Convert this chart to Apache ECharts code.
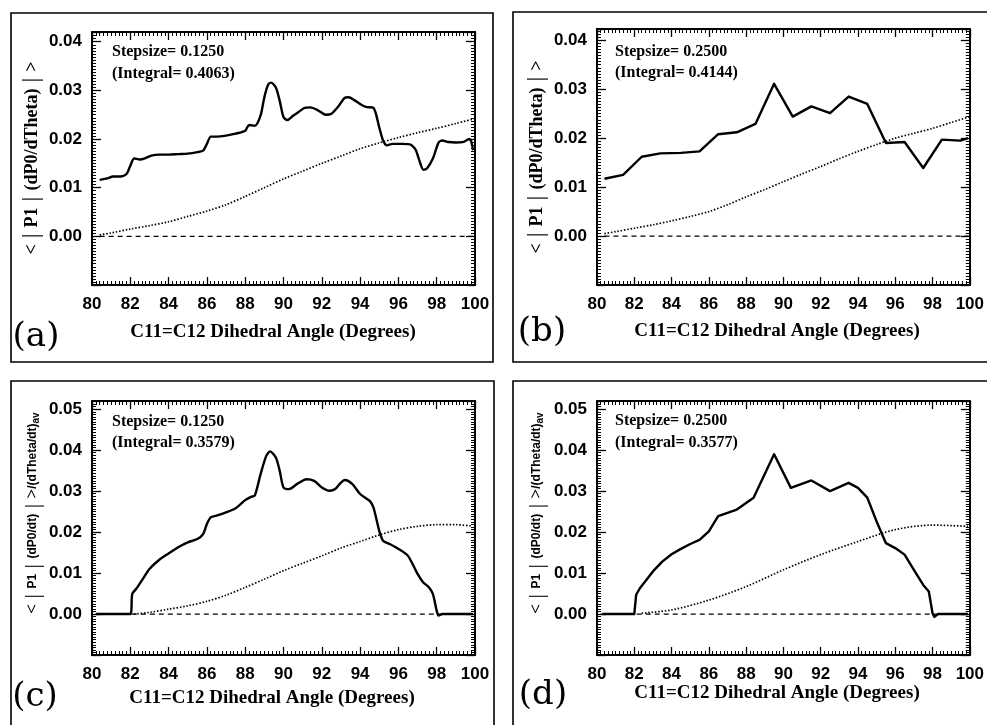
<!DOCTYPE html>
<html>
<head>
<meta charset="utf-8">
<script src="https://cdn.jsdelivr.net/npm/echarts@6/dist/echarts.min.js"></script>
<style>
html,body{margin:0;padding:0;background:#fff;}
#chart{width:987px;height:725px;}
</style>
</head>
<body>
<div id="chart"></div>
<script>
// ---------- Data ----------
const xTicks = [80, 82, 84, 86, 88, 90, 92, 94, 96, 98, 100];

// Panel (a): stepsize 0.125
const angleA = [80.4,80.8,81.1,81.5,81.8,82.0,82.2,82.5,82.8,83.1,83.5,84.0,84.5,85.0,85.5,85.8,86.0,86.2,86.5,87.0,87.5,88.0,88.2,88.5,88.8,89.0,89.2,89.35,89.6,89.8,90.0,90.2,90.5,90.8,91.1,91.4,91.8,92.2,92.5,92.9,93.2,93.4,93.7,94.0,94.3,94.7,95.0,95.2,95.4,95.7,96.2,96.6,96.9,97.1,97.3,97.5,97.8,98.1,98.3,98.6,99.0,99.4,99.7,99.8,99.9];
const solidA = [0.0116,0.0119,0.0123,0.0123,0.0128,0.0145,0.0160,0.0158,0.0161,0.0166,0.0168,0.0168,0.0169,0.0170,0.0173,0.0176,0.0190,0.0205,0.0205,0.0207,0.0211,0.0217,0.0229,0.0227,0.0248,0.0286,0.0312,0.0316,0.0306,0.0279,0.0245,0.0239,0.0248,0.0256,0.0264,0.0265,0.0259,0.0250,0.0252,0.0269,0.0285,0.0286,0.0280,0.0272,0.0266,0.0264,0.0224,0.0197,0.0187,0.0190,0.0190,0.0189,0.0178,0.0155,0.0137,0.0140,0.0160,0.0193,0.0197,0.0194,0.0193,0.0194,0.0200,0.0195,0.0177];
const dotAngleA = [80.4,81,82,83,84,85,86,87,88,89,90,91,92,93,94,95,96,97,98,99,100];
const dotA = [0.0003,0.0007,0.0015,0.0022,0.0030,0.0041,0.0052,0.0065,0.0082,0.0100,0.0118,0.0134,0.0150,0.0165,0.0180,0.0192,0.0203,0.0213,0.0222,0.0232,0.0242];

// Panel (b): stepsize 0.25
const angleB = [80.4,81.4,82.4,83.4,84.5,85.5,86.5,87.5,88.5,89.5,90.5,91.5,92.5,93.5,94.5,95.5,96.5,97.5,98.5,99.5,99.9];
const solidB = [0.0117,0.0125,0.0162,0.0169,0.0170,0.0173,0.0208,0.0212,0.0229,0.0311,0.0244,0.0265,0.0251,0.0285,0.0270,0.0190,0.0192,0.0139,0.0197,0.0195,0.0200];
const dotAngleB = [80.4,81,82,83,84,85,86,87,88,89,90,91,92,93,94,95,96,97,98,99,100];
const dotB = [0.0005,0.0009,0.0016,0.0023,0.0031,0.0040,0.0050,0.0064,0.0080,0.0095,0.0111,0.0127,0.0142,0.0158,0.0173,0.0187,0.0200,0.0210,0.0220,0.0232,0.0244];

// Panel (c): stepsize 0.125
const angleC = [80.2,82.0,82.1,82.3,82.7,83.0,83.5,84.0,84.5,85.0,85.5,85.8,86.0,86.2,86.5,87.0,87.5,88.0,88.3,88.5,88.8,89.1,89.3,89.6,89.8,90.0,90.3,90.7,91.2,91.6,92.0,92.4,92.7,93.0,93.2,93.6,94.0,94.5,94.7,95.0,95.2,95.5,96.0,96.5,97.0,97.3,97.6,97.8,98.0,98.1,98.3,99.9];
const solidC = [0,0,0.0049,0.0061,0.0089,0.0110,0.0132,0.0148,0.0163,0.0175,0.0183,0.0195,0.0220,0.0236,0.0240,0.0248,0.0258,0.0278,0.0286,0.0289,0.0341,0.0386,0.0397,0.0382,0.0350,0.0309,0.0305,0.0317,0.0329,0.0325,0.0309,0.0301,0.0305,0.0321,0.0327,0.0317,0.0293,0.0276,0.0260,0.0203,0.0179,0.0172,0.0159,0.0142,0.0098,0.0077,0.0065,0.0049,0.0008,-0.0004,0,0];
const dotAngleC = [82.2,83,84,85,86,87,88,89,90,91,92,93,94,95,96,97,98,99,99.8];
const dotC = [0.0000,0.0004,0.0012,0.0020,0.0031,0.0046,0.0065,0.0085,0.0106,0.0124,0.0142,0.0161,0.0177,0.0193,0.0206,0.0214,0.0218,0.0218,0.0215];

// Panel (d): stepsize 0.25
const angleD = [80.3,82.0,82.1,82.3,83.0,83.5,84.0,84.5,85.0,85.5,86.0,86.5,87.0,87.5,88.0,88.4,89.5,90.4,91.5,92.5,93.5,94.0,94.5,95.0,95.5,96.0,96.5,97.0,97.5,97.8,98.0,98.1,98.3,99.9];
const solidD = [0,0,0.0047,0.0063,0.0104,0.0128,0.0146,0.0159,0.0171,0.0181,0.0202,0.0239,0.0247,0.0255,0.0271,0.0284,0.0390,0.0308,0.0326,0.0300,0.0320,0.0308,0.0284,0.0226,0.0173,0.0161,0.0145,0.0108,0.0071,0.0055,0.0002,-0.0007,0,0];
const dotAngleD = [82.4,84,86,88,90,92,94,96,98,99.9];
const dotD = [0.0002,0.0010,0.0034,0.0067,0.0108,0.0145,0.0177,0.0206,0.0217,0.0214];

const zeroLineA = [80.4, 100];
const zeroLineC = [80.2, 99.9];

const panelLetters = ['(a)', '(b)', '(c)', '(d)'];
const stepLabels = ['Stepsize= 0.1250', 'Stepsize= 0.2500', 'Stepsize= 0.1250', 'Stepsize= 0.2500'];
const integralLabels = ['(Integral= 0.4063)', '(Integral= 0.4144)', '(Integral= 0.3579)', '(Integral= 0.3577)'];
const xAxisTitle = 'C11=C12 Dihedral Angle (Degrees)';

// ---------- Layout ----------
const panels = [
  {grid:{left:92, top:32, width:383, height:253}, ymax:0.042, labMax:0.04,
   solid:[angleA, solidA], dot:[dotAngleA, dotA], zero:zeroLineA,
   box:[11,13,482,349], letter:[36,337], xname:[273,332], yname:[32,158], ann:[112,52,74], kind:'top'},
  {grid:{left:597, top:29, width:380, height:256}, ymax:0.0423, labMax:0.04,
   solid:[angleB, solidB], dot:[dotAngleB, dotB], zero:zeroLineA,
   box:[513,12,480,350], letter:[542,332], xname:[777,331], yname:[537,157], ann:[615,52,73], kind:'top'},
  {grid:{left:92, top:401, width:383, height:254}, ymax:0.052, labMax:0.05,
   solid:[angleC, solidC], dot:[dotAngleC, dotC], zero:zeroLineC,
   box:[11,381,483,350], letter:[35,697], xname:[272,698], yname:[33,513], ann:[112,422,443], kind:'bot'},
  {grid:{left:597, top:401, width:381, height:254}, ymax:0.052, labMax:0.05,
   solid:[angleD, solidD], dot:[dotAngleD, dotD], zero:zeroLineC,
   box:[513,381,480,350], letter:[543,695], xname:[777,693], yname:[537,513], ann:[615,421,443], kind:'bot'}
];

const FONT_SERIF = '"Liberation Serif", "DejaVu Serif", serif';
const FONT_SANS = '"Liberation Sans", Arial, sans-serif';

const grids = [], xAxes = [], yAxes = [], series = [], graphics = [];

function pairs(xs, ys) { return xs.map((x, i) => [x, ys[i]]); }

panels.forEach((p, i) => {
  grids.push(Object.assign({show:false}, p.grid));
  const tickCommon = {show:true, inside:true, length:8, lineStyle:{color:'#000', width:1.3}};
  const minorCommon = {show:true, splitNumber:10, length:4, lineStyle:{color:'#000', width:1}};
  const lineCommon = {show:true, onZero:false, lineStyle:{color:'#000', width:2}};
  // bottom x
  xAxes.push({gridIndex:i, type:'value', position:'bottom', min:80, max:100, interval:2,
    axisLine:lineCommon, axisTick:tickCommon, minorTick:minorCommon, splitLine:{show:false},
    axisLabel:{show:true, margin:11, color:'#000', fontFamily:FONT_SANS, fontWeight:'bold', fontSize:17,
      formatter:(v)=> xTicks.indexOf(Math.round(v)) >= 0 && Math.abs(v-Math.round(v))<1e-9 ? String(Math.round(v)) : ''}});
  // top x (mirror)
  xAxes.push({gridIndex:i, type:'value', position:'top', min:80, max:100, interval:2,
    axisLine:lineCommon, axisTick:tickCommon, minorTick:minorCommon, splitLine:{show:false},
    axisLabel:{show:false}});
  const labMax = p.labMax;
  const yTickCommon = {show:true, inside:true, length:9, lineStyle:{color:'#000', width:1.3}};
  const yMinor = {show:true, splitNumber:16, length:4, lineStyle:{color:'#000', width:1}};
  yAxes.push({gridIndex:i, type:'value', position:'left', min:-0.01, max:p.ymax, interval:0.01,
    axisLine:lineCommon, axisTick:yTickCommon, minorTick:yMinor, splitLine:{show:false},
    axisLabel:{show:true, margin:10, color:'#000', fontFamily:FONT_SANS, fontWeight:'bold', fontSize:17,
      formatter:(v)=>{ const r = Math.round(v*100)/100; if (Math.abs(v-r)>1e-9 || r < -1e-9 || r > labMax+1e-9) return ''; return r.toFixed(2); }}});
  yAxes.push({gridIndex:i, type:'value', position:'right', min:-0.01, max:p.ymax, interval:0.01,
    axisLine:lineCommon, axisTick:yTickCommon, minorTick:yMinor, splitLine:{show:false},
    axisLabel:{show:false}});
  const xi = i*2, yi = i*2;
  series.push({type:'line', xAxisIndex:xi, yAxisIndex:yi, data:pairs(p.zero, [0,0]), symbol:'none',
    lineStyle:{color:'#000', width:1.3, type:[5,4]}, silent:true, z:2});
  series.push({type:'line', xAxisIndex:xi, yAxisIndex:yi, data:pairs(p.dot[0], p.dot[1]), symbol:'none', smooth:0.3,
    lineStyle:{color:'#000', width:1.7, type:[1.5,1.8]}, silent:true, z:3});
  series.push({type:'line', xAxisIndex:xi, yAxisIndex:yi, data:pairs(p.solid[0], p.solid[1]), symbol:'none',
    smooth:(i%2===0)?0.25:false,
    lineStyle:{color:'#000', width:2.4, join:'round'}, silent:true, z:4});

  // outer frame
  graphics.push({type:'rect', shape:{x:p.box[0], y:p.box[1], width:p.box[2], height:p.box[3]},
    style:{fill:null, stroke:'#000', lineWidth:1.6}, silent:true});
  // panel letter
  graphics.push({type:'text', x:p.letter[0], y:p.letter[1],
    style:{text:panelLetters[i], fill:'#000', font:'34px "DejaVu Serif", "Liberation Serif", serif',
      align:'center', verticalAlign:'middle', textAlign:'center', textVerticalAlign:'middle'}});
  // x axis title
  graphics.push({type:'text', x:p.xname[0], y:p.xname[1],
    style:{text:xAxisTitle, fill:'#000', font:'bold 19px ' + FONT_SERIF,
      align:'center', verticalAlign:'middle', textAlign:'center', textVerticalAlign:'middle'}});
  // annotations
  graphics.push({type:'text', x:p.ann[0], y:p.ann[1],
    style:{text:stepLabels[i], fill:'#000', font:'bold 16px ' + FONT_SERIF,
      align:'left', verticalAlign:'middle', textAlign:'left', textVerticalAlign:'middle'}});
  graphics.push({type:'text', x:p.ann[0], y:p.ann[2],
    style:{text:integralLabels[i], fill:'#000', font:'bold 16px ' + FONT_SERIF,
      align:'left', verticalAlign:'middle', textAlign:'left', textVerticalAlign:'middle'}});
  // y axis title (rotated)
  let ytext, rich;
  if (p.kind === 'top') {
    ytext = '{s|<}{b| | }{s|P1}{b| | }{s|(dP0/dTheta)}{b| | }{s|>}';
    rich = {
      s:{fontFamily:FONT_SERIF, fontWeight:'bold', fontSize:18, fill:'#000', color:'#000'},
      b:{fontFamily:FONT_SERIF, fontWeight:'normal', fontSize:24, fill:'#000', color:'#000'}
    };
  } else {
    ytext = '{s|<}{b| | }{m|P1}{b| | }{m|(dP0/dt)}{b| | }{s|>}{m|/(dTheta/dt)}{sub|av}';
    rich = {
      s:{fontFamily:FONT_SERIF, fontWeight:'bold', fontSize:17, fill:'#000', color:'#000'},
      m:{fontFamily:FONT_SANS, fontWeight:'bold', fontSize:12, fill:'#000', color:'#000'},
      sub:{fontFamily:FONT_SANS, fontWeight:'bold', fontSize:10, fill:'#000', color:'#000', padding:[6,0,0,0]},
      b:{fontFamily:FONT_SERIF, fontWeight:'normal', fontSize:22, fill:'#000', color:'#000'}
    };
  }
  graphics.push({type:'text', x:p.yname[0], y:p.yname[1], rotation:Math.PI/2,
    style:{text:ytext, rich:rich, fill:'#000', align:'center', verticalAlign:'middle',
      textAlign:'center', textVerticalAlign:'middle'}});
});

const chart = echarts.init(document.getElementById('chart'), null, {renderer:'canvas'});
chart.setOption({
  animation:false,
  backgroundColor:'#fff',
  grid:grids,
  xAxis:xAxes,
  yAxis:yAxes,
  series:series,
  graphic:{elements:graphics}
});
</script>
</body>
</html>
